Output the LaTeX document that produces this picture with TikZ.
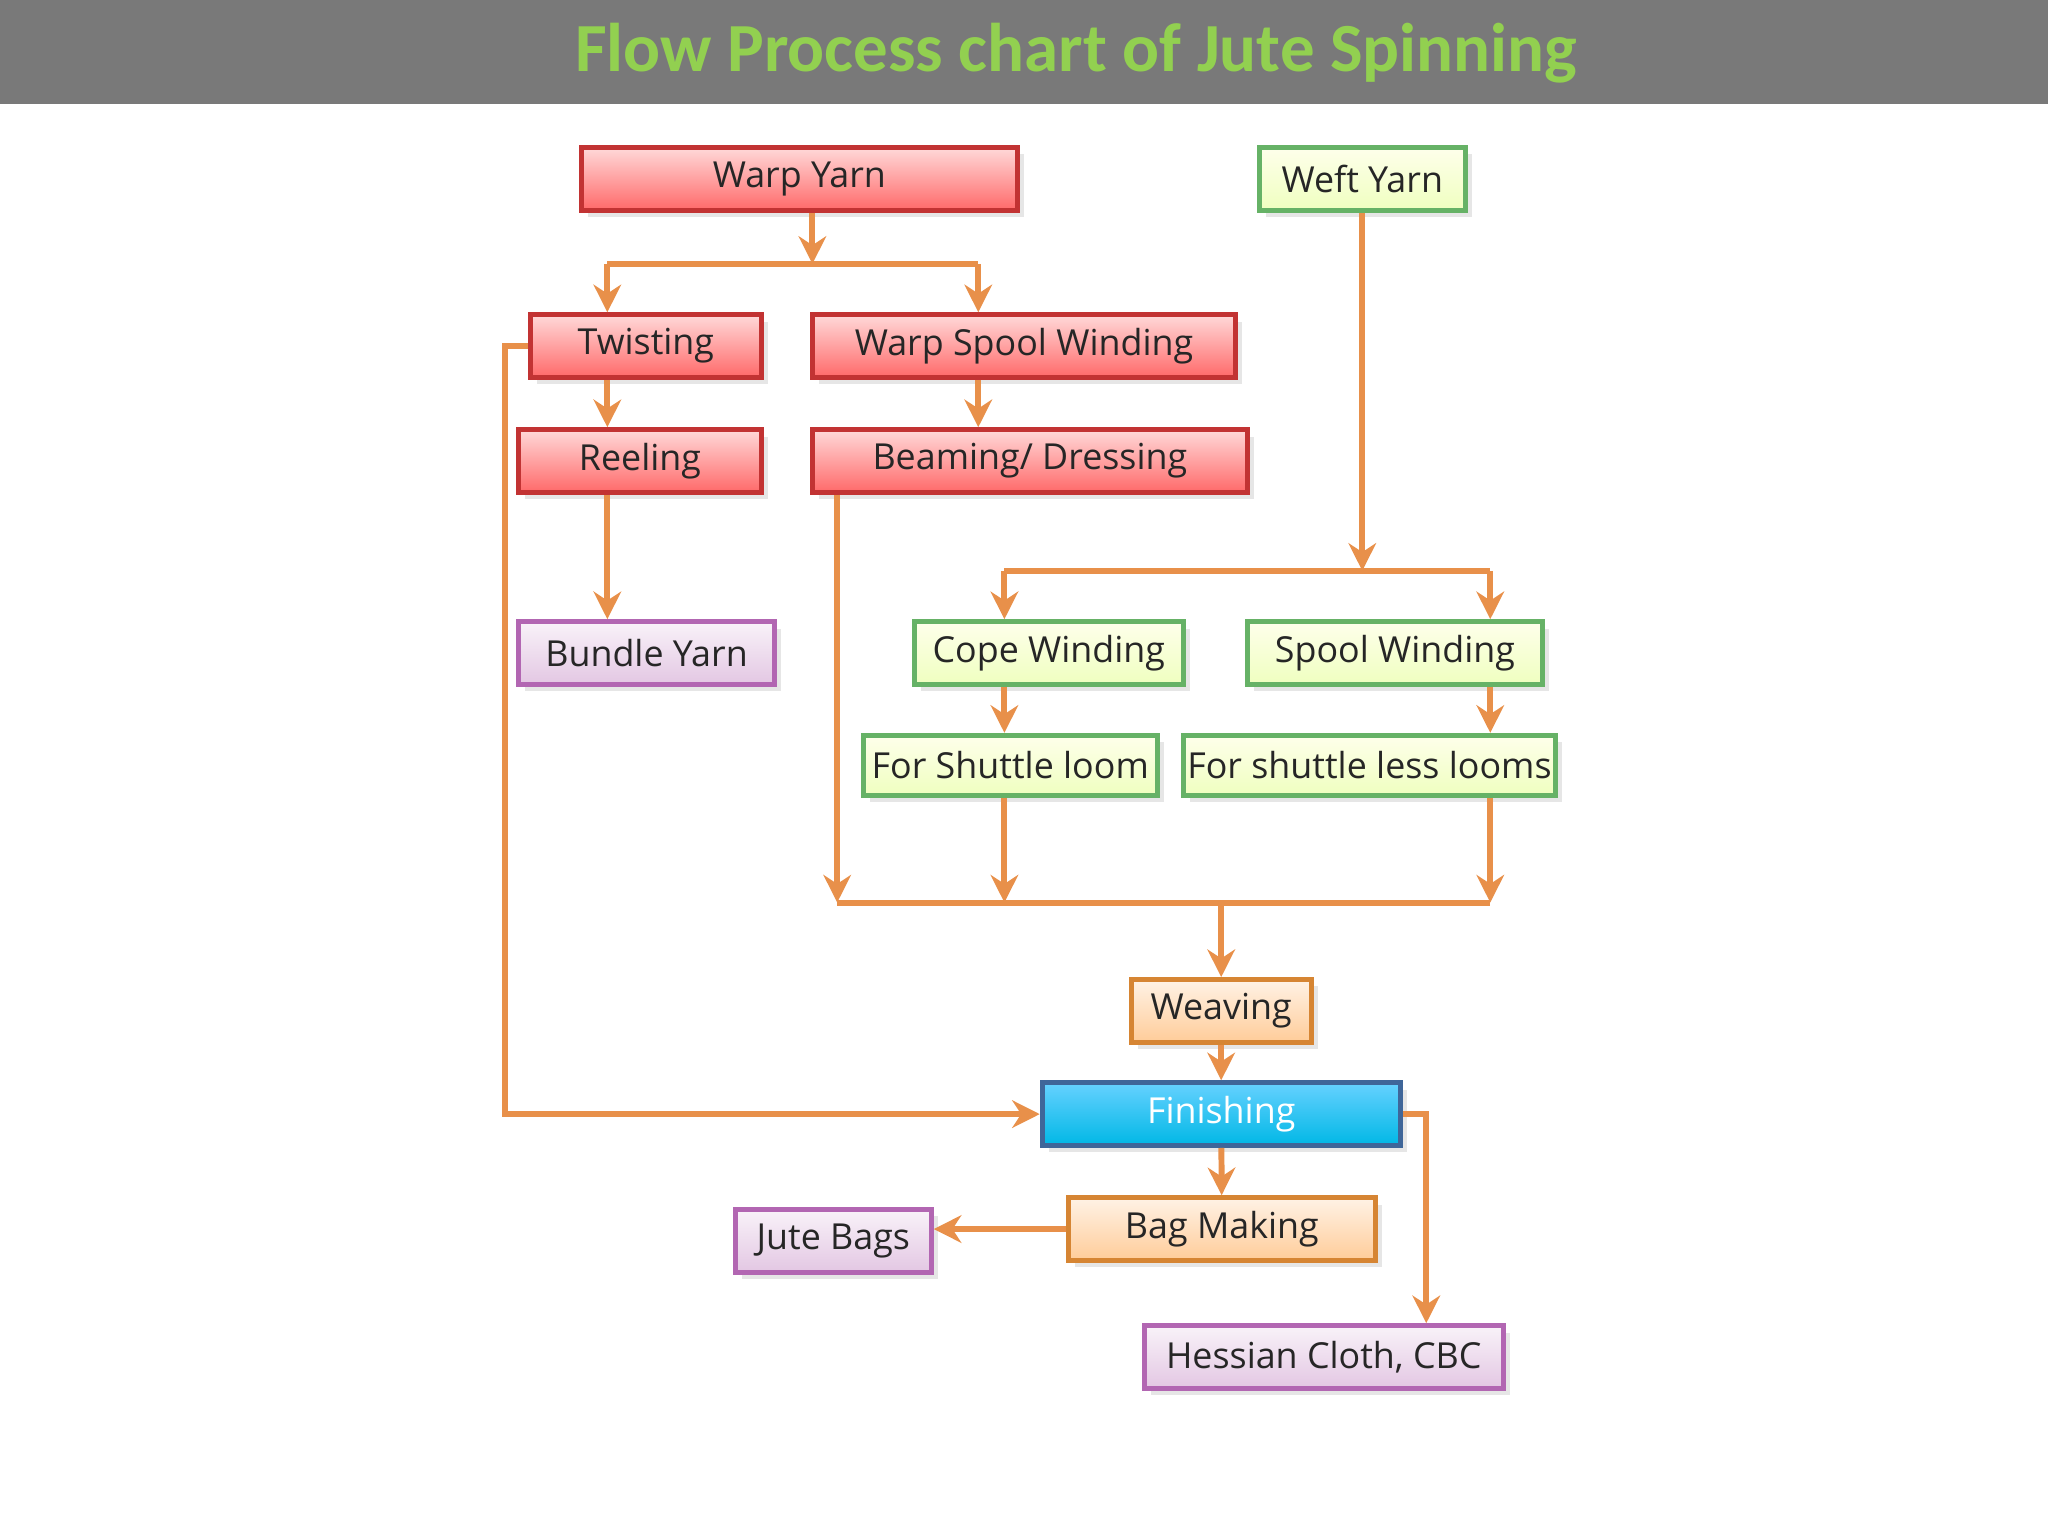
\documentclass[tikz,border=0pt]{standalone}
\usepackage{fontspec}
\setmainfont{Open Sans}
\newfontfamily\titlefont{Carlito}
\usetikzlibrary{arrows.meta,shadows}
\definecolor{lnc}{HTML}{E8904A}
\tikzset{
 bx/.style={draw, line width=1.1pt, inner sep=0pt, font=\fontsize{7.8}{9}\selectfont, text=black!85, drop shadow={opacity=0.2,shadow xshift=1.5pt,shadow yshift=-1.5pt}},
 redb/.style={bx, draw=red!70!black!80, top color=red!15, bottom color=red!45!pink},
 grnb/.style={bx, draw=green!50!black!60, top color=green!5!yellow!8, bottom color=green!25!yellow!25},
 purb/.style={bx, draw=violet!60, top color=violet!5, bottom color=violet!22},
 orab/.style={bx, draw=orange!80!black!80, top color=orange!10, bottom color=orange!40},
 blub/.style={bx, draw=cyan!50!blue!70!black, top color=cyan!70!blue!60, bottom color=cyan!80!blue!90!black, text=white},
 ln/.style={draw=lnc, line width=1.3pt},
 ar/.style={ln, -{Stealth[length=6pt,width=6pt]}}
}
\newcommand\bx[7]{\node[#6, minimum width={(#4-#2)*0.01cm}, minimum height={(#5-#3)*0.01cm}] (#1) at ({(#2+#4)/2},{(#3+#5)/2}) {#7};}
\begin{document}
\begin{tikzpicture}[x=0.01cm,y=-0.01cm]
\useasboundingbox (0,0) rectangle (1568,1176);
\fill[gray!95!black!100] (0,0) rectangle (1568,80);
\node[font=\titlefont\bfseries\fontsize{15}{18}\selectfont, text={rgb,255:red,146;green,208;blue,80}] (title) at (824,41) {Flow Process chart of Jute Spinning};
\bx{wy}{445}{113}{779}{161}{redb}{Warp Yarn}
\bx{wf}{964}{113}{1122}{161}{grnb}{Weft Yarn}
\bx{tw}{406}{241}{583}{289}{redb}{Twisting}
\bx{ws}{622}{241}{946}{289}{redb}{Warp Spool Winding}
\bx{re}{397}{329}{583}{377}{redb}{Reeling}
\bx{bd}{622}{329}{955}{377}{redb}{Beaming/ Dressing}
\bx{by}{397}{476}{593}{524}{purb}{Bundle Yarn}
\bx{cw}{700}{476}{906}{524}{grnb}{Cope Winding}
\bx{sw}{955}{476}{1181}{524}{grnb}{Spool Winding}
\bx{fs}{661}{563}{886}{609}{grnb}{For Shuttle loom}
\bx{fl}{906}{563}{1191}{609}{grnb}{For shuttle less looms}
\bx{wv}{866}{750}{1004}{798}{orab}{Weaving}
\bx{fi}{798}{829}{1072}{877}{blub}{Finishing}
\bx{bm}{818}{917}{1053}{965}{orab}{Bag Making}
\bx{jb}{563}{926}{713}{974}{purb}{Jute Bags}
\bx{hc}{876}{1015}{1151}{1063}{purb}{Hessian Cloth, CBC}
\coordinate (j1) at (622,202);
\coordinate (j2) at (1043,437);
\coordinate (j3) at (935,691);
\draw[ar] (wy.south -| j1) -- (j1);
\draw[ln] (465,202) -- (749,202);
\draw[ar] (465,202) -- (tw.north -| 465,0);
\draw[ar] (749,202) -- (ws.north -| 749,0);
\draw[ar] (tw.south -| 465,0) -- (re.north -| 465,0);
\draw[ar] (ws.south -| 749,0) -- (bd.north -| 749,0);
\draw[ar] (re.south -| 465,0) -- (by.north -| 465,0);
\draw[ar] (wf.south -| j2) -- (j2);
\draw[ln] (769,437) -- (1141,437);
\draw[ar] (769,437) -- (cw.north -| 769,0);
\draw[ar] (1141,437) -- (sw.north -| 1141,0);
\draw[ar] (cw.south -| 769,0) -- (fs.north -| 769,0);
\draw[ar] (sw.south -| 1141,0) -- (fl.north -| 1141,0);
\draw[ar] (bd.south -| 641,0) -- (641,691);
\draw[ar] (fs.south -| 769,0) -- (769,691);
\draw[ar] (fl.south -| 1141,0) -- (1141,691);
\draw[ln] (641,691) -- (1141,691);
\draw[ar] (j3) -- (wv.north -| j3);
\draw[ar] (wv) -- (fi);
\draw[ar] (tw.west) -- (387,265) |- (fi.west);
\draw[ar] (fi.east) -| (hc.north -| 1092,0);
\draw[ar] (fi) -- (bm);
\draw[ar] (bm.west) -- (jb.east |- bm.west);
\end{tikzpicture}
\end{document}
